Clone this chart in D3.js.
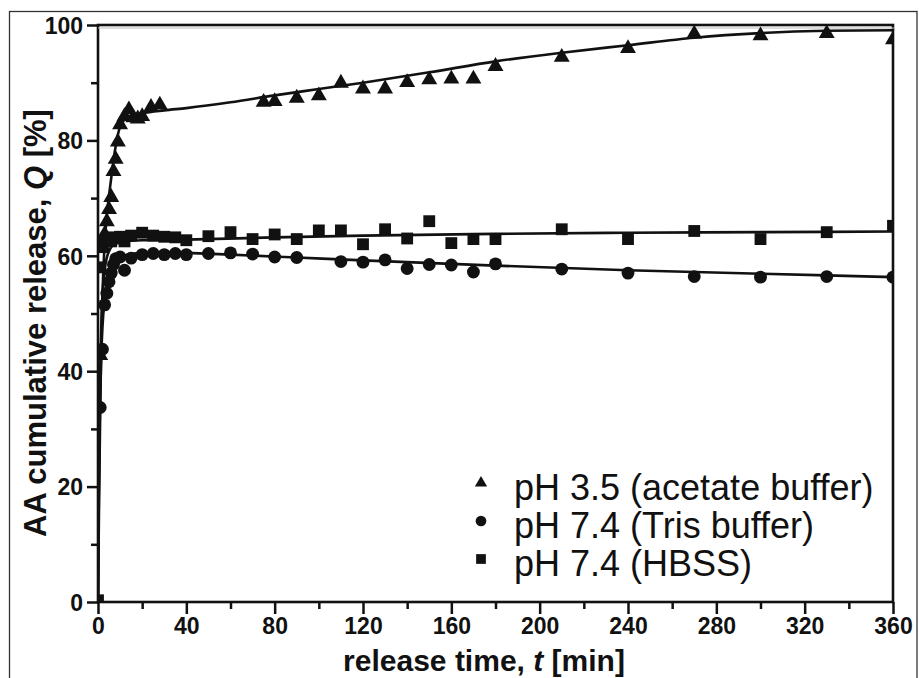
<!DOCTYPE html>
<html>
<head>
<meta charset="utf-8">
<script src="https://cdn.jsdelivr.net/npm/d3@7"></script>
<style>
  html, body { margin: 0; padding: 0; background: #fff; }
  svg { display: block; }
  text { font-family: "Liberation Sans", Arial, Helvetica, sans-serif; fill: #111; }
</style>
</head>
<body>
<svg id="chart" width="919" height="678"></svg>
<script>
// ---- data ----
const xTicks = [0, 40, 80, 120, 160, 200, 240, 280, 320, 360];
const xMinorTicks = [20, 60, 100, 140, 180, 220, 260, 300, 340];
const yTicks = [0, 20, 40, 60, 80, 100];
const yMinorTicks = [10, 30, 50, 70, 90];

const seriesNames = ["pH 3.5 (acetate buffer)", "pH 7.4 (Tris buffer)", "pH 7.4 (HBSS)"];

// pH 3.5 acetate buffer (triangles)
const acetateTime = [1,2,3,4,5,6,7,8,9,10,12,14,16,18,20,24,28,75,80,90,100,110,120,130,140,150,160,170,180,210,240,270,300,330,360];
const acetateQ    = [43,62,64,66.2,68.3,70.4,74.9,77,80,83,84.4,85.6,84.2,84,84.4,86,86.4,86.9,87,87.6,88,90.2,89.2,89.2,90.3,90.8,90.9,90.9,93.1,94.7,96.2,98.7,98.4,98.8,97.7];

// pH 7.4 Tris buffer (circles)
const trisTime = [1,2,3,4,5,6,7,8,10,12,15,20,25,30,35,40,50,60,70,80,90,110,120,130,140,150,160,170,180,210,240,270,300,330,360];
const trisQ    = [33.7,43.8,51.5,53.5,55.5,57,58.5,59.5,59.8,57.5,59.6,60.2,60.4,60.2,60.4,60.2,60.4,60.5,60.3,59.8,59.7,59.0,58.9,59.3,57.8,58.5,58.4,57.2,58.6,57.7,57.0,56.4,56.3,56.4,56.3];

// pH 7.4 HBSS (squares)
const hbssTime = [0,1,2,3,4,5,6,8,10,12,15,20,25,30,35,40,50,60,70,80,90,100,110,120,130,140,150,160,170,180,210,240,270,300,330,360];
const hbssQ    = [0.3,58,61.5,62.5,62.8,63.2,62.5,63,63.3,62.5,63.5,64,63.5,63.3,63.2,62.7,63.4,64.1,62.9,63.7,62.9,64.4,64.4,62.0,64.6,63.0,66.0,62.2,62.9,62.9,64.6,62.9,64.3,62.9,64.1,65.2];

// fitted curves
const fitAcetateTime = [0,0.5,1,1.5,2,3,4,5,6,7,8,9,10,12,15,20,30,40,60,80,100,120,150,180,210,240,270,300,330,360];
const fitAcetateQ    = [0,18,33,45,53,62,67,70.5,73.5,76.5,79,81,82.4,83.6,84.3,84.7,85.2,85.6,86.6,87.8,88.9,90,91.8,93.7,95.2,96.5,97.8,98.6,99,99.1];
const fitTrisTime = [0,0.3,0.6,1,1.5,2,3,4,5,6,8,10,15,20,30,40,60,90,120,180,240,300,360];
const fitTrisQ    = [0,15,27,36,43,47.5,52.5,55.3,57,58,59.2,59.8,60.3,60.5,60.6,60.5,60.2,59.7,59.2,58.3,57.5,56.9,56.3];
const fitHbssTime = [0,0.3,0.6,1,1.5,2,3,4,5,6,8,10,15,20,40,80,120,180,240,300,360];
const fitHbssQ    = [0,17,30,40,48,53,57.5,59.7,60.8,61.5,62.1,62.4,62.6,62.7,62.8,63.2,63.5,63.8,64.0,64.1,64.2];

// ---- layout ----
const svg = d3.select("#chart");
const mLeft = 98, mRight = 893, mTop = 25, mBottom = 602;
const ink = "#111";

const x = d3.scaleLinear().domain([0, 360]).range([mLeft, mRight]);
const y = d3.scaleLinear().domain([0, 100]).range([mBottom, mTop]);

// outer figure border
svg.append("rect")
  .attr("x", 9.5).attr("y", 11.5)
  .attr("width", 907.5).attr("height", 700)
  .attr("fill", "none").attr("stroke", "#333").attr("stroke-width", 1.3);

// clip
svg.append("defs").append("clipPath").attr("id", "plotclip")
  .append("rect").attr("x", mLeft).attr("y", mTop - 10)
  .attr("width", mRight - mLeft).attr("height", mBottom - mTop + 10);

// axes
const tickFont = "bold 23px 'Liberation Sans', Arial, sans-serif";

const yAxis = svg.append("g").attr("transform", `translate(${mLeft},0)`)
  .call(d3.axisLeft(y).tickValues(yTicks).tickSize(11).tickPadding(4).tickFormat(d3.format("d")));
const yMinor = svg.append("g").attr("transform", `translate(${mLeft},0)`)
  .call(d3.axisLeft(y).tickValues(yMinorTicks).tickSize(7).tickFormat(""));
const xAxis = svg.append("g").attr("transform", `translate(0,${mBottom})`)
  .call(d3.axisBottom(x).tickValues(xTicks).tickSize(12).tickPadding(4).tickFormat(d3.format("d")));
const xMinor = svg.append("g").attr("transform", `translate(0,${mBottom})`)
  .call(d3.axisBottom(x).tickValues(xMinorTicks).tickSize(7).tickFormat(""));

[yAxis, yMinor, xAxis, xMinor].forEach(g => {
  g.select(".domain").remove();
  g.selectAll(".tick line").attr("stroke", ink).attr("stroke-width", 2.5);
  g.selectAll(".tick text").style("font", tickFont).attr("fill", ink);
});
yAxis.selectAll(".tick text").attr("dy", "0.36em");

// plot frame
svg.append("rect")
  .attr("x", mLeft).attr("y", mTop)
  .attr("width", mRight - mLeft).attr("height", mBottom - mTop)
  .attr("fill", "none").attr("stroke", ink).attr("stroke-width", 2.6);
svg.append("line")
  .attr("x1", mLeft).attr("x2", mRight + 1)
  .attr("y1", mTop + 3).attr("y2", mTop + 3)
  .attr("stroke", "#bbb").attr("stroke-width", 1);

// axis titles
svg.append("text")
  .attr("x", 484).attr("y", 671)
  .attr("text-anchor", "middle")
  .style("font", "bold 30px 'Liberation Sans', Arial, sans-serif")
  .html('release time, <tspan font-style="italic">t</tspan> [min]');

svg.append("text")
  .attr("transform", "translate(46,323) rotate(-90)")
  .attr("text-anchor", "middle")
  .style("font", "bold 31px 'Liberation Sans', Arial, sans-serif")
  .html('AA cumulative release, <tspan font-style="italic">Q</tspan> [%]');

// data
const plot = svg.append("g").attr("clip-path", "url(#plotclip)");
const line = d3.line().x(d => x(d[0])).y(d => y(d[1])).curve(d3.curveMonotoneX);

const fits = [
  d3.zip(fitAcetateTime, fitAcetateQ),
  d3.zip(fitTrisTime, fitTrisQ),
  d3.zip(fitHbssTime, fitHbssQ)
];
fits.forEach(f => {
  plot.append("path").datum(f).attr("d", line)
    .attr("fill", "none").attr("stroke", ink).attr("stroke-width", 2.6);
});

const series = [
  { pts: d3.zip(acetateTime, acetateQ), type: d3.symbolTriangle, size: 110, dy: 1.5 },
  { pts: d3.zip(trisTime, trisQ),       type: d3.symbolCircle,   size: 130, dy: 0 },
  { pts: d3.zip(hbssTime, hbssQ),       type: d3.symbolSquare,   size: 140, dy: 0 }
];
series.forEach(s => {
  plot.append("g").selectAll("path").data(s.pts).join("path")
    .attr("d", d3.symbol().type(s.type).size(s.size))
    .attr("transform", d => `translate(${x(d[0])},${y(d[1]) + s.dy})`)
    .attr("fill", ink);
});

// legend
const legend = svg.append("g");
const legendSymbols = [
  { type: d3.symbolTriangle, size: 65 },
  { type: d3.symbolCircle, size: 90 },
  { type: d3.symbolSquare, size: 95 }
];
const legendRowY = [483, 521, 559];
seriesNames.forEach((name, i) => {
  legend.append("path")
    .attr("d", d3.symbol().type(legendSymbols[i].type).size(legendSymbols[i].size))
    .attr("transform", `translate(481,${legendRowY[i]})`)
    .attr("fill", ink);
  legend.append("text")
    .attr("x", 514).attr("y", legendRowY[i] + 17)
    .style("font", "36px 'Liberation Sans', Arial, sans-serif")
    .text(name);
});
</script>
</body>
</html>
